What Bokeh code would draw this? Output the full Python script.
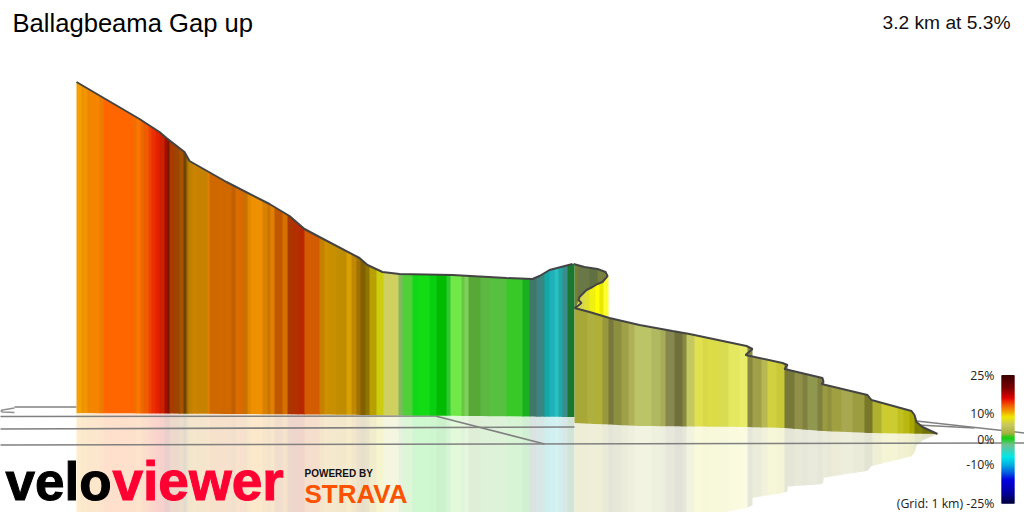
from bokeh.plotting import figure
from bokeh.models import Range1d
from bokeh.core.properties import value
from bokeh.embed import file_html
from bokeh.resources import INLINE
import numpy as np

title = "Ballagbeama Gap up"
summary = "3.2 km at 5.3%"
scale_labels = ["25%", "10%", "0%", "-10%", "(Grid: 1 km) -25%"]
scale_values = [25, 10, 0, -10, -25]

wall1_x = [77,140,160,167,185,190,227,270,290,305,320,360,368,383,400,453,507,533,540,550,573,575]
wall1_top = [82,119,132,138,152,161,182,204,216,229,237,258,265,272,274,275,278,279,276,270,264,264]
wall1_base_x = [77,320,575]
wall1_base = [413,414.5,417]

wall2_x = [575,590,610,640,673,690,747,753,753.01,783,788,788.01,823,824,824.01,868,872,912,915,917,923,938]
wall2_top = [308,312,318,325,331,334,346,349,356.5,363,365,370,378,382,384.5,395,400,411,415,422,427,434]
wall2_base_x = [575,640,746,785,822,870,938]
wall2_base = [423,426,427,428,431,433,434]
wall2_line_x = [575,590,610,640,673,690,747,753,746,783,788,785,823,824,822,868,872,912,915,917,923,938]
wall2_line_y = [308,312,318,325,331,334,346,349,355,363,365,369,378,382,384,395,400,411,415,422,427,434]

fold_top_x = [574,585,598,606,608]
fold_top_y = [264,267,269,272,276]
fold_low_x = [608,603,598,593,587,580,579,582,577,575]
fold_low_y = [276,282,284,287,290,297,300,303,307,308]

wall1_edges = [77,82,84,88,90,100,104,134,137,141,144,149,152,156,160,165,168,170,175,180,184,187,189,193,197,208,210,232,236,240,244,248,251,263,268,271,275,283,288,292,299,305,320,325,328,337,347,352,357,361,366,370,377,384,399,403,413,419,430,437,447,451,462,465,469,481,490,507,523,530,537,540,545,550,555,559,563,568,575]
wall1_colors = ["#f5a000","#e89200","#f59300","#e58a00","#f58500","#ee7c00","#ff6600","#ee7000","#ff7400","#ea6a00","#ee5c00","#f24000","#e83000","#e52200","#cc2000","#a01000","#7a1500","#a83c00","#9c4400","#a45400","#6e4400","#a87000","#c08000","#cc8400","#c68200","#e08000","#d06800","#c06000","#db6c00","#d86a00","#c87000","#e08800","#ee9000","#d88000","#cc7400","#e08000","#c05800","#d87000","#a83800","#b03000","#b82800","#d45c00","#c88000","#d09000","#c89000","#c08c00","#d8a000","#c08800","#a07000","#806000","#907400","#b8a000","#cccc10","#cfd060","#80b860","#50d038","#10d818","#14dc14","#08d010","#00bc00","#30c830","#70e848","#68c840","#80d060","#58a838","#5cb840","#58c040","#38c828","#18b020","#407868","#408088","#388880","#10a8a8","#20b0b8","#28c0c0","#20a8a8","#3c8c8c","#187830"]

wall2_edges = [575,588,594,603,609,614,622,629,635,652,661,666,675,683,687,695,703,708,720,729,740,748,753,762,768,777,785,795,803,808,818,823,828,832,842,853,865,873,882,898,904,910,915,923,938]
wall2_colors = ["#a8a838","#b0b040","#b0b038","#98983c","#78783a","#8c8e40","#a0a048","#b0b058","#bcc468","#b0b860","#a8ac58","#868850","#70703c","#888840","#c4c860","#e0e050","#d8d848","#dcdc48","#d8dc50","#e4e860","#e8ec68","#888840","#a0a048","#b8b850","#d0d040","#c8c838","#787838","#909048","#808040","#909850","#808040","#9a9a40","#909040","#a0a040","#a8a850","#9c9c40","#787828","#b0b030","#cccc30","#c0c020","#b8b810","#a8a800","#808000","#707000"]

fold_edges = [578,585,590,596,600,604,609]
fold_colors = ["#d8d850","#e0e030","#f0f010","#ffff00","#e8e800","#ffff30"]
back_edges = [575,578,590,598,606,609]
back_colors = ["#788030","#6a7848","#607040","#788040","#a0a030"]

grid_lines_x = [[0,436],[436,545],[0,575],[0,1025],[917,1025],[918,975],[15,77]]
grid_lines_y = [[416.5,416],[416,444],[429,427],[445,443],[421,433],[425,428],[407,407]]
squiggle_x = [15,3,1,3,15]
squiggle_y = [408,410,411,412,412.5]

ramp_pct = [25,20,16,14,11.3,8.6,5.5,2.3,0.4,-2.3,-7,-10,-13,-16,-21,-25]
ramp_col = ["#3a0000","#7a0000","#e00000","#f04000","#f09000","#f0e800","#c8c860","#a8b040","#10d010","#70c090","#00e8e8","#00b0e0","#0060e0","#0000e0","#0000a0","#000040"]

OVER = 0.8


def hex2rgb(h):
    return [int(h[i:i + 2], 16) for i in (1, 3, 5)]


def pale(colors, a=0.2):
    out = []
    for c in colors:
        r = [round(255 + (v - 255) * a) for v in hex2rgb(c)]
        out.append("#%02x%02x%02x" % tuple(r))
    return out


def band_polys(edges, xs, tops, base_x, base):
    out_x, out_t, out_r = [], [], []
    xs = np.array(xs, float)
    tops = np.array(tops, float)
    for a, b in zip(edges[:-1], edges[1:]):
        b2 = b + OVER if b != edges[-1] else b
        inner = xs[(xs > a) & (xs < b2)]
        px = np.concatenate([[a], inner, [b2]])
        pt = np.interp(px, xs, tops)
        pb = np.interp(px, base_x, base)
        out_x.append(list(px) + list(px[::-1]))
        out_t.append(list(pt) + list(pb[::-1]))
        out_r.append(list(pb) + list((2 * pb - pt)[::-1]))
    return out_x, out_t, out_r


p = figure(width=1024, height=512, x_range=Range1d(1, 1025), y_range=Range1d(512.5, 0.5),
           output_backend="svg", toolbar_location=None, min_border=0)
p.axis.visible = False
p.grid.visible = False
p.outline_line_color = None
p.background_fill_color = "white"

# reflections
x1, t1, r1 = band_polys(wall1_edges, wall1_x, wall1_top, wall1_base_x, wall1_base)
x2, t2, r2 = band_polys(wall2_edges, wall2_x, wall2_top, wall2_base_x, wall2_base)
p.patches(x1, r1, fill_color=pale(wall1_colors), line_color=None)
p.patches(x2, r2, fill_color=pale(wall2_colors), line_color=None)

# ground grid
p.multi_line(grid_lines_x, grid_lines_y, line_color="#808080", line_width=1.6)
p.line(squiggle_x, squiggle_y, line_color="#909090", line_width=1.4)

# fold behind the front wall
fold_x = np.array(fold_low_x[::-1], float)
fold_y = np.array(fold_low_y[::-1], float)
fx = fold_x[[0, 1, 3, 4, 5, 6, 7, 8, 9]]
fy = fold_y[[0, 1, 3, 4, 5, 6, 7, 8, 9]]
ys_x, ys_y = [], []
for a, b in zip(fold_edges[:-1], fold_edges[1:]):
    b2 = b + OVER if b != fold_edges[-1] else b
    inner = fx[(fx > a) & (fx < b2)]
    px = np.concatenate([[a], inner, [b2]])
    py = np.interp(px, fx, fy)
    ys_x.append(list(px) + [b2, a])
    ys_y.append(list(py) + [325, 325])
p.patches(ys_x, ys_y, fill_color=fold_colors, line_color=None)

bk_x, bk_y = [], []
upx = np.array(fold_top_x, float)
upy = np.array(fold_top_y, float)
for a, b in zip(back_edges[:-1], back_edges[1:]):
    b2 = b + OVER if b != back_edges[-1] else b
    inner = np.unique(np.concatenate([upx[(upx > a) & (upx < b2)], fx[(fx > a) & (fx < b2)]]))
    px = np.concatenate([[a], inner, [b2]])
    top = np.interp(px, upx, upy)
    low = np.interp(px, fx, fy)
    bk_x.append(list(px) + list(px[::-1]))
    bk_y.append(list(top) + list(low[::-1]))
p.patches(bk_x, bk_y, fill_color=back_colors, line_color=None)
p.line(fold_top_x + fold_low_x, fold_top_y + fold_low_y, line_color="#444444", line_width=2)

# walls
p.patches(x1, t1, fill_color=wall1_colors, line_color=None)
p.patches(x2, t2, fill_color=wall2_colors, line_color=None)
p.line(wall1_x[:-1], wall1_top[:-1], line_color="#444444", line_width=2)
p.line(wall2_line_x, wall2_line_y, line_color="#444444", line_width=2)

# colour scale
cells = np.linspace(25, -25, 129)
rgb = np.array([hex2rgb(c) for c in ramp_col], float)
pct_asc = np.array(ramp_pct[::-1], float)
cols = []
mid = (cells[:-1] + cells[1:]) / 2
for m in mid:
    c = [np.interp(m, pct_asc, rgb[::-1, k]) for k in range(3)]
    cols.append("#%02x%02x%02x" % tuple(int(round(v)) for v in c))
scale_y = lambda v: 439 - (np.asarray(v) * 2.56)
p.quad(left=1002, right=1015, top=scale_y(cells[:-1]), bottom=scale_y(cells[1:]) + 0.8,
       fill_color=cols, line_color=None)


def put(x, baseline, label, size, font="Liberation Sans", color="#000000", **kw):
    p.text([x], [baseline - 0.346 * size], text=[label], text_font=value(font),
           text_font_size=f"{size}px", text_color=color, text_baseline="middle", **kw)


put(13, 32, title, 25.6)
put(1011, 29, summary, 19.2, color="#111111", text_align="right")
for v, lab in zip(scale_values, scale_labels):
    p.text([995], [float(scale_y(v))], text=[lab], text_font=value("Open Sans"),
           text_font_size="12.3px", text_align="right", text_baseline="middle", text_color="#222222")

# logos
put(6, 500.3, "velo", 53, text_font_style="bold", text_outline_color="#000000")
put(113, 500.3, "viewer", 55, color="#ff0033", text_font_style="bold", text_outline_color="#ff0033")
put(305, 477, "POWERED BY", 10, color="#111111", text_font_style="bold")
put(305, 503, "STRAVA", 26, color="#fc5200", text_font_style="bold")

open("out.html", "w").write(file_html(p, INLINE))
